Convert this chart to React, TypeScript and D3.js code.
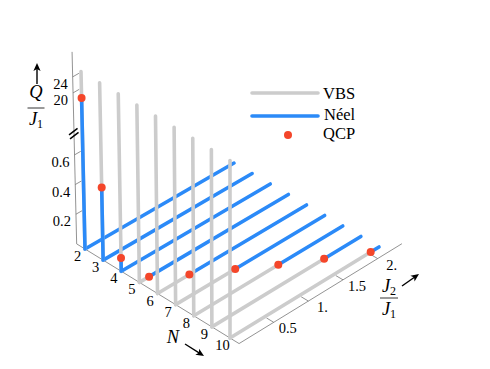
import * as d3 from 'd3';

const Ns = [2, 3, 4, 5, 6, 7, 8, 9, 10];
// QCP position on each N line
const qcpJ = [0, 0, 0, 0.14, 0.46, 0.86, 1.22, 1.62, 2.03];
const qcpQ = [20, 0.49, 0.09, 0, 0, 0, 0, 0, 0];
const jMax = 2.15;
const qMax = 26.5;

const qTicks = [0.2, 0.4, 0.6, 20, 24];
const qTickLabels = ['0.2', '0.4', '0.6', '20', '24'];
const jTicks = [0.5, 1, 1.5, 2];
const jTickLabels = ['0.5', '1.', '1.5', '2.'];
const legendItems = ['VBS', 'Néel', 'QCP'];

const GRAY = '#cccccc';
const BLUE = '#2b8af8';
const RED = '#f4462a';
const AXIS = '#777777';
const FONT = '"Liberation Serif", serif';

// oblique projection, the Q axis is broken between 0.6 and 20
const nx = d3.scaleLinear().domain([2, 10]).range([85, 230]);
const ny = d3.scaleLinear().domain([2, 10]).range([249, 338]);
const jx = d3.scaleLinear().domain([0, 1]).range([0, 69.3]);
const jSlope = d3.scaleLinear().domain([2, 10]).range([0.577, 0.611]);
const qh = d3.scaleLinear().domain([0, 0.6, 20, 24, 30]).range([0, 89, 151, 167, 192]);
const qTilt = d3.scaleLinear().domain([2, 10]).range([-0.0226, 0]);

function project(n: number, j: number, q: number): [number, number] {
  const dx = jx(j);
  const h = qh(q);
  return [nx(n) + dx + qTilt(n) * h, ny(n) - dx * jSlope(n) - h];
}

const path = (pts: [number, number][]) => d3.line()(pts) ?? '';

function Arrow({ x1, y1, x2, y2 }: { x1: number; y1: number; x2: number; y2: number }) {
  const a = Math.atan2(y2 - y1, x2 - x1);
  const deg = (a * 180) / Math.PI;
  return (
    <g>
      <line x1={x1} y1={y1} x2={x2 - 3 * Math.cos(a)} y2={y2 - 3 * Math.sin(a)} stroke="#000" strokeWidth={1.4} />
      <path d="M0,0L-8,-3.6L-6,0L-8,3.6Z" transform={`translate(${x2},${y2}) rotate(${deg})`} fill="#000" />
    </g>
  );
}

function Frac({ x, top, bar, bottom, w, num, sub }: { x: number; top: number; bar: number; bottom: number; w: number; num: string; sub?: string }) {
  return (
    <g fontFamily={FONT} fontSize={18.5} fontStyle="italic" textAnchor="middle">
      <text x={x} y={top}>
        {num}
        {sub && <tspan fontSize={12} fontStyle="normal" dy={3}>{sub}</tspan>}
      </text>
      <line x1={x - w / 2} x2={x + w / 2} y1={bar} y2={bar} stroke="#000" strokeWidth={0.8} />
      <text x={x} y={bottom}>
        J<tspan fontSize={12} fontStyle="normal" dy={3}>1</tspan>
      </text>
    </g>
  );
}

export default function App() {
  const order = Ns.map((n, i) => ({ n, j: qcpJ[i], q: qcpQ[i] }));
  const corner = project(1.54, 0, 0);
  const nEnd = project(10.5, 0, 0);
  const jEnd = project(10.5, 2.35, 0);
  const qEnd = project(1.54, 0, 30);
  const brk = project(1.54, 0, 7);

  return (
    <svg width={490} height={369} style={{ position: 'absolute', left: 0, top: 0 }}>
      <rect width={490} height={369} fill="#fff" />
      {/* box axes */}
      <g fill="none" stroke={AXIS} strokeWidth={0.8}>
        <path d={path([qEnd, corner, nEnd, jEnd])} />
        {qTicks.map(q => (
          <path key={q} d={path([project(1.54, 0, q), project(1.54, 0.09, q)])} />
        ))}
        {jTicks.map(j => (
          <path key={j} d={path([project(10.5, j, 0), project(10.1, j, 0)])} />
        ))}
        {Ns.map(n => (
          <path key={n} d={path([project(n, 0, 0), project(n, 0.09, 0)])} />
        ))}
      </g>

      {/* lines along J, gray up to the QCP, blue above */}
      <g fill="none" strokeWidth={3.6} strokeLinecap="round">
        {order.map(d => (
          <g key={d.n}>
            {d.j > 0 && <path d={path([project(d.n, 0, 0), project(d.n, d.j, 0)])} stroke={GRAY} />}
          </g>
        ))}
        {order.map(d => (
          <path key={d.n} d={path([project(d.n, d.j, 0), project(d.n, jMax, 0)])} stroke={BLUE} />
        ))}
        {/* vertical lines at J = 0 */}
        {order.map(d => (
          <g key={d.n}>
            <path d={path([project(d.n, 0, 0), project(d.n, 0, qMax)])} stroke={GRAY} />
            {d.q > 0 && <path d={path([project(d.n, 0, 0), project(d.n, 0, d.q)])} stroke={BLUE} />}
          </g>
        ))}
      </g>

      {order.map(d => {
        const [cx, cy] = project(d.n, d.j, d.q);
        return <circle key={d.n} cx={cx} cy={cy} r={4} fill={RED} />;
      })}

      {/* axis break */}
      <g stroke="#000" strokeWidth={1.5}>
        <line x1={brk[0] - 5} y1={brk[1] + 0.5} x2={brk[0] + 3.5} y2={brk[1] - 6} />
        <line x1={brk[0] - 4} y1={brk[1] + 4.5} x2={brk[0] + 4.5} y2={brk[1] - 2} />
      </g>

      {/* tick labels */}
      <g fontFamily={FONT} fontSize={14.5} fill="#000">
        {qTicks.map((q, i) => {
          const [x, y] = project(1.54, 0, q);
          return (
            <text key={q} x={x - 5} y={y + 12} textAnchor="end">
              {qTickLabels[i]}
            </text>
          );
        })}
        {Ns.map(n => {
          const [x, y] = project(n, 0, 0);
          return (
            <text key={n} x={x - 7.5} y={y + 12} textAnchor="middle">
              {n}
            </text>
          );
        })}
        {jTicks.map((j, i) => {
          const [x, y] = project(10.5, j, 0);
          return (
            <text key={j} x={x + 14} y={y + 11} textAnchor="middle">
              {jTickLabels[i]}
            </text>
          );
        })}
      </g>

      {/* axis titles */}
      <Frac x={36} top={98} bar={108} bottom={125} w={17} num="Q" />
      <Arrow x1={37} y1={84} x2={37} y2={63} />
      <text x={173} y={343} fontFamily={FONT} fontSize={18.5} fontStyle="italic" textAnchor="middle">N</text>
      <Arrow x1={185} y1={344} x2={204} y2={356} />
      <Frac x={389} top={292} bar={298} bottom={315} w={18} num="J" sub="2" />
      <Arrow x1={402} y1={286} x2={419} y2={274} />

      {/* legend */}
      <g fontFamily={FONT} fontSize={16.5}>
        <line x1={252} x2={318} y1={93} y2={93} stroke={GRAY} strokeWidth={3.6} strokeLinecap="round" />
        <line x1={252} x2={318} y1={116} y2={116} stroke={BLUE} strokeWidth={3.6} strokeLinecap="round" />
        <circle cx={288} cy={135} r={4} fill={RED} />
        <text x={323} y={99}>{legendItems[0]}</text>
        <text x={324} y={120}>{legendItems[1]}</text>
        <text x={323} y={139}>{legendItems[2]}</text>
      </g>
    </svg>
  );
}
